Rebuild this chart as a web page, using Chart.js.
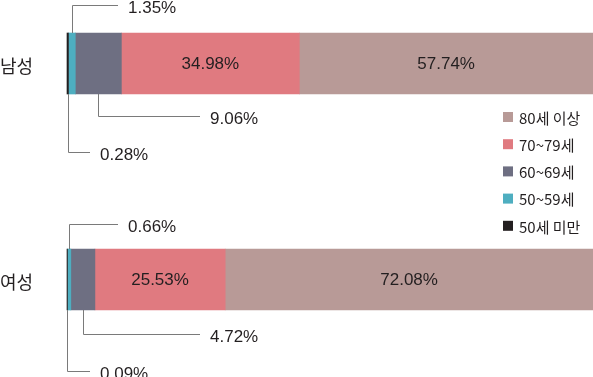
<!DOCTYPE html>
<html>
<head>
<meta charset="utf-8">
<script src="https://cdn.jsdelivr.net/npm/chart.js@4"></script>
<style>
  html, body { margin: 0; padding: 0; background: #fff; }
  #wrap { width: 593px; height: 377px; }
</style>
</head>
<body>
<div id="wrap"><canvas id="ageChart" width="593" height="377"></canvas></div>
<script>
// Categories and age groups
const categories = ['남성', '여성'];
const ageGroups = ['50세 미만', '50~59세', '60~69세', '70~79세', '80세 이상'];
const groupColors = ['#231f20', '#4eaec0', '#6e6f82', '#e07a80', '#b89a97'];

// Share (%) per age group, one array per category
const maleValues = [0.28, 1.35, 9.06, 34.98, 57.74];
const femaleValues = [0.09, 0.66, 4.72, 25.53, 72.08];

const seriesByCategory = [maleValues, femaleValues];

// Each bar fills the full width, so scale to each bar's total
const totals = seriesByCategory.map(vals => vals.reduce((a, b) => a + b, 0));
const datasets = ageGroups.map((group, i) => ({
    label: group,
    data: seriesByCategory.map((vals, c) => vals[i] / totals[c] * 100),
    raw: seriesByCategory.map(vals => vals[i]),
    backgroundColor: groupColors[i],
    borderWidth: 0,
    barThickness: 61,
    clip: false,
}));

const textColor = '#231f20';
const numFont = '17px "Liberation Sans", Arial, sans-serif';
const krFont = '18px "Noto Sans CJK KR", sans-serif';

// Leader-line callouts for the thin segments: [category, segment, dy, lineEndX]
const callouts = [
    [0, 1, -28, 118],
    [0, 2, 22, 200],
    [0, 0, 58, 90],
    [1, 1, -25, 118],
    [1, 2, 24, 200],
    [1, 0, 61, 90],
];

const labelPlugin = {
    id: 'labelPlugin',
    afterDatasetsDraw(chart) {
        const ctx = chart.ctx;
        ctx.save();

        // category names on the left
        ctx.font = krFont;
        ctx.fillStyle = textColor;
        ctx.textAlign = 'left';
        ctx.textBaseline = 'middle';
        categories.forEach((cat, c) => {
            const bar = chart.getDatasetMeta(0).data[c];
            ctx.fillText(cat, 0, bar.y + 3);
        });

        // values inside the two wide segments
        ctx.font = numFont;
        ctx.textAlign = 'center';
        [3, 4].forEach(i => {
            chart.getDatasetMeta(i).data.forEach((bar, c) => {
                const mid = (bar.base + bar.x) / 2;
                ctx.fillText(datasets[i].raw[c].toFixed(2) + '%', mid, bar.y + 1);
            });
        });

        // callouts for the thin segments
        ctx.strokeStyle = '#7a7a7a';
        ctx.lineWidth = 1;
        ctx.textAlign = 'left';
        callouts.forEach(([c, i, dy, endX]) => {
            const bar = chart.getDatasetMeta(i).data[c];
            const x = Math.round((bar.base + bar.x) / 2) + 0.5;
            const startY = dy < 0 ? bar.y - bar.height / 2 : bar.y + bar.height / 2;
            const lineY = Math.round(startY + dy) + 0.5;
            ctx.beginPath();
            ctx.moveTo(x, startY);
            ctx.lineTo(x, lineY);
            ctx.lineTo(endX, lineY);
            ctx.stroke();
            ctx.fillText(datasets[i].raw[c].toFixed(2) + '%', endX + 10, lineY + 3);
        });

        // legend, top item is the oldest group
        ctx.font = '15px "Noto Sans CJK KR", sans-serif';
        const order = [4, 3, 2, 1, 0];
        order.forEach((i, row) => {
            const y = 117 + row * 27.2;
            ctx.fillStyle = groupColors[i];
            ctx.fillRect(503, y - 5, 10, 10);
            ctx.fillStyle = textColor;
            ctx.fillText(ageGroups[i], 519, y + 1);
        });

        ctx.restore();
    }
};

const ctx = document.getElementById('ageChart').getContext('2d');
const ageChart = new Chart(ctx, {
    type: 'bar',
    data: { labels: categories, datasets: datasets },
    options: {
        indexAxis: 'y',
        responsive: false,
        animation: false,
        layout: { padding: { left: 67, right: 0, top: 63.5, bottom: 97.5 } },
        scales: {
            x: { stacked: true, min: 0, max: 100, display: false },
            y: { stacked: true, offset: false, display: false }
        },
        plugins: {
            legend: { display: false },
            tooltip: { enabled: false }
        }
    },
    plugins: [labelPlugin]
});
</script>
</body>
</html>
